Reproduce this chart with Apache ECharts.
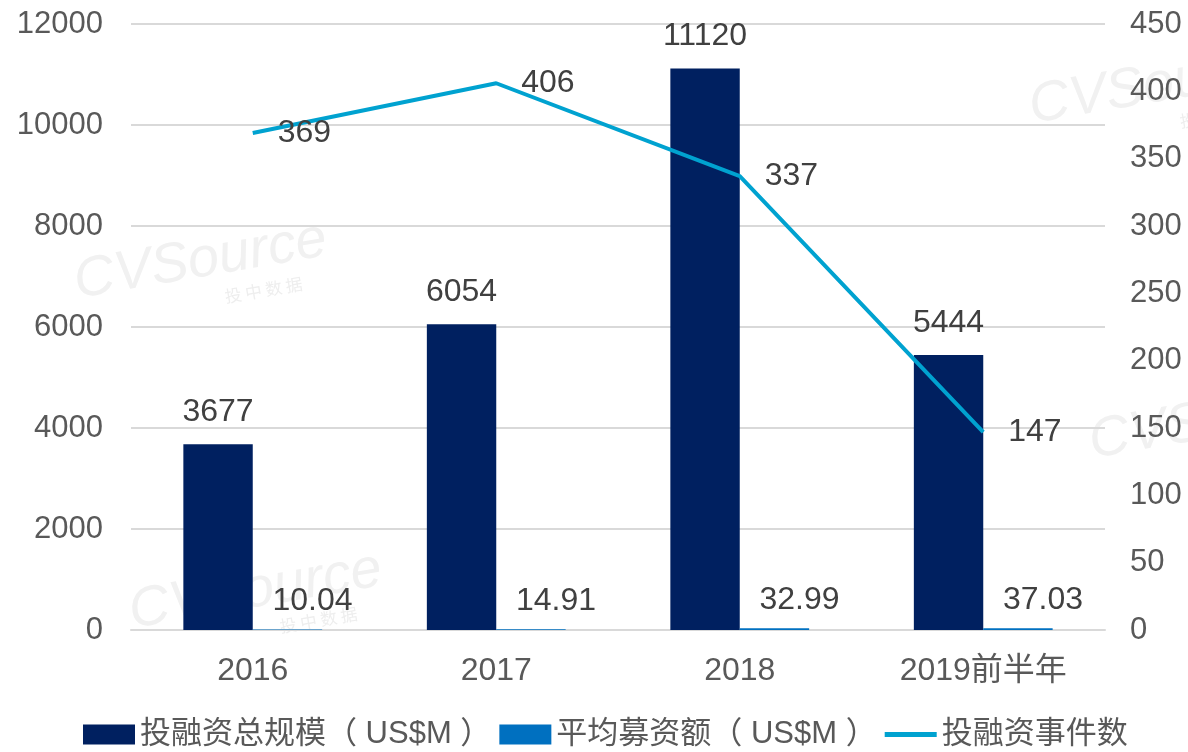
<!DOCTYPE html>
<html>
<head>
<meta charset="utf-8">
<title>投融资规模</title>
<script src="https://cdn.jsdelivr.net/npm/echarts@6/dist/echarts.min.js"></script>
<style>
  html, body { margin: 0; padding: 0; background: #fff; }
  #main { width: 1188px; height: 752px; }
</style>
</head>
<body>
<div id="main"></div>
<script>
// 数据
var years = ['2016', '2017', '2018', '2019前半年'];
var totalAmount = [3677, 6054, 11120, 5444];     // 投融资总规模（US$M）
var avgAmount = [10.04, 14.91, 32.99, 37.03];    // 平均募资额（US$M）
var eventCount = [369, 406, 337, 147];           // 投融资事件数
var leftTicks = [0, 12000, 2000];                // min, max, interval
var rightTicks = [0, 450, 50];

var font = '"Liberation Sans", Arial, "Noto Sans CJK SC", sans-serif';
var myChart = echarts.init(document.getElementById('main'));

// 水印
function mark(x, y, size) {
  return {
    type: 'group', x: x, y: y, rotation: 0.17, z: -1, silent: true,
    children: [
      { type: 'text', style: { text: 'CVSource', fontSize: size, fontFamily: font, fill: '#f1f1f1', fontStyle: 'italic' } },
      { type: 'text', x: size * 2.6, y: size * 1.05, style: { text: '投 中 数 据', fontSize: size * 0.3, fontFamily: '"Noto Sans CJK SC"', fill: '#eeeeee' } }
    ]
  };
}

var option = {
  animation: false,
  textStyle: { fontFamily: font },
  graphic: [mark(70, 255, 56), mark(125, 585, 56), mark(1025, 80, 56), mark(1085, 415, 56)],
  grid: { left: 131, right: 83, top: 24, bottom: 122 },
  legend: {
    top: 719,
    left: 83,
    padding: 0,
    itemWidth: 52,
    itemHeight: 20,
    itemGap: 8,
    textStyle: { fontSize: 31, color: '#595959', fontFamily: font },
    data: [
      { name: '投融资总规模（ US$M ）', icon: 'rect' },
      { name: '平均募资额（ US$M ）', icon: 'rect' },
      { name: '投融资事件数', icon: 'path://M0,0 L52,0 L52,5 L0,5 Z' }
    ]
  },
  xAxis: {
    type: 'category',
    data: years,
    axisTick: { show: false },
    axisLine: { lineStyle: { color: '#d9d9d9', width: 2 } },
    axisLabel: { fontSize: 32, color: '#595959', margin: 25 }
  },
  yAxis: [
    {
      type: 'value',
      min: leftTicks[0], max: leftTicks[1], interval: leftTicks[2],
      axisLine: { show: false },
      axisTick: { show: false },
      splitLine: { lineStyle: { color: '#d9d9d9', width: 2 } },
      axisLabel: { fontSize: 31, color: '#595959', margin: 28, formatter: function (v) { return String(v); } }
    },
    {
      type: 'value',
      min: rightTicks[0], max: rightTicks[1], interval: rightTicks[2],
      axisLine: { show: false },
      axisTick: { show: false },
      splitLine: { show: false },
      axisLabel: { fontSize: 31, color: '#595959', margin: 25 }
    }
  ],
  series: [
    {
      name: '投融资总规模（ US$M ）',
      type: 'bar',
      data: totalAmount,
      barGap: '0%',
      barCategoryGap: '43%',
      itemStyle: { color: '#002060' },
      label: { show: true, position: 'top', distance: 16, fontSize: 32, color: '#404040' }
    },
    {
      name: '平均募资额（ US$M ）',
      type: 'bar',
      data: avgAmount,
      itemStyle: { color: '#0070c0' },
      label: { show: true, position: 'top', distance: 12, offset: [25, 0], fontSize: 32, color: '#404040' }
    },
    {
      name: '投融资事件数',
      type: 'line',
      yAxisIndex: 1,
      data: eventCount,
      showSymbol: true,
      symbol: 'circle',
      symbolSize: 0,
      lineStyle: { color: '#00a2d0', width: 4 },
      itemStyle: { color: '#00a2d0' },
      label: { show: true, position: 'right', distance: 25, fontSize: 32, color: '#404040' }
    }
  ]
};
myChart.setOption(option);
</script>
</body>
</html>
